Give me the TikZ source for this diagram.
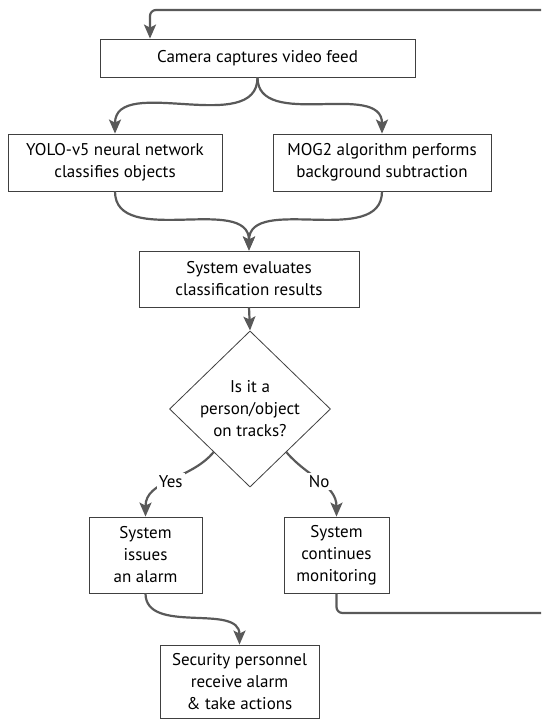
\documentclass[tikz,border=0pt]{standalone}
\usepackage{fontspec}
\setmainfont{PT Sans}
\usetikzlibrary{shapes.geometric,arrows.meta,calc}
\begin{document}
\begin{tikzpicture}[x=1pt,y=-1pt,
  font=\fontsize{17}{22}\selectfont,
  box/.style={draw=black!75,line width=0.8pt,align=center,inner sep=2pt,fill=white},
  arr/.style={draw=black!65,line width=2.2pt,-{Stealth[length=14pt,width=12pt,inset=3pt]}},
  lnk/.style={draw=black!65,line width=2.2pt},
  lbl/.style={fill=white,inner sep=2pt}]
\useasboundingbox (0,0) rectangle (541,719);
\node[box,minimum width=315,minimum height=38] (cam) at (257.5,58) {Camera captures video feed};
\node[box,minimum width=214,minimum height=57] (yolo) at (115,162.5) {YOLO-v5 neural network\\classifies objects};
\node[box,minimum width=218,minimum height=57] (mog) at (382,162.5) {MOG2 algorithm performs\\background subtraction};
\node[box,minimum width=220,minimum height=56] (eval) at (249,279) {System evaluates\\classification results};
\node[box,shape=diamond,inner sep=0pt,minimum width=161,minimum height=138] (dia) at (250,409) {Is it a\\person/object\\on tracks?};
\node[box,minimum width=113,minimum height=76] (yes) at (145.5,555) {System\\issues\\an alarm};
\node[box,minimum width=105,minimum height=76] (cont) at (336.5,555) {System\\continues\\monitoring};
\node[box,minimum width=159,minimum height=73] (sec) at (239.5,681.5) {Security personnel\\receive alarm\\\& take actions};
\coordinate (loopA) at (541,613);
\coordinate (loopB) at (541,10);
\coordinate (camx) at (150,0);
\coordinate (dyes) at ($(dia.west)!0.55!(dia.south)$);
\coordinate (dno) at ($(dia.east)!0.55!(dia.south)$);
% connectors
\draw[lnk,rounded corners=6] (cont.south) |- (loopA);
\draw[arr,rounded corners=6] (loopB) -| (cam.north -| camx);
\draw[arr] (cam.south) to[out=-90,in=90] (yolo.north);
\draw[arr] (cam.south) to[out=-90,in=90] (mog.north);
\draw[arr] (yolo.south) to[out=-90,in=90] (eval.north);
\draw[arr] (mog.south) to[out=-90,in=90] (eval.north);
\draw[arr] (eval.south) -- (dia.north);
\draw[arr] (dyes) to[out=-130,in=90] node[lbl] {Yes} (yes.north);
\draw[arr] (dno) to[out=-50,in=90] node[lbl] {No} (cont.north);
\draw[arr] (yes.south) to[out=-90,in=90] (sec.north);
\end{tikzpicture}
\end{document}
